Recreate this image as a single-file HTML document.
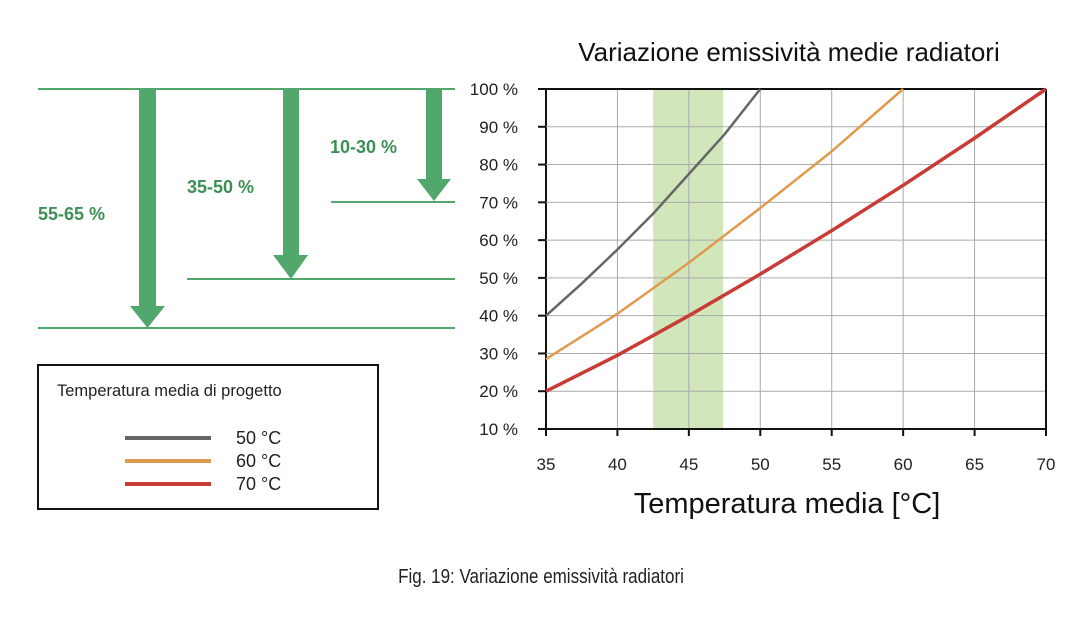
<!DOCTYPE html>
<html><head><meta charset="utf-8"><style>body{margin:0;background:#fff}svg{display:block;font-family:"Liberation Sans",sans-serif}</style></head>
<body>
<svg id="c" width="1082" height="624" viewBox="0 0 1082 624">
<g fill="#52a86c" stroke="none">
<rect x="38" y="88" width="417" height="2"/>
<rect x="331" y="201" width="124" height="2"/>
<rect x="187" y="278" width="268" height="2"/>
<rect x="38" y="327" width="417" height="2"/>
<path d="M139 90 H156 V306 H165 L147.5 328 L130 306 H139 Z"/>
<path d="M283 90 H299 V255 H308 L291 279 L273 255 H283 Z"/>
<path d="M426 90 H442 V179 H451 L434 201 L417 179 H426 Z"/>
<g font-weight="bold" font-size="18" fill="#3d8f55">
<text x="38" y="220">55-65 %</text>
<text x="187" y="193">35-50 %</text>
<text x="330" y="153">10-30 %</text>
</g></g>
<g>
<rect x="38" y="365" width="340" height="144" fill="none" stroke="#111" stroke-width="2"/>
<text x="57" y="396" font-size="16.5" fill="#222">Temperatura media di progetto</text>
<line x1="125" y1="438" x2="211" y2="438" stroke="#666" stroke-width="4"/>
<line x1="125" y1="461" x2="211" y2="461" stroke="#e09a4c" stroke-width="4"/>
<line x1="125" y1="484" x2="211" y2="484" stroke="#c93c36" stroke-width="4"/>
<text x="236" y="444" font-size="18" fill="#222">50 °C</text>
<text x="236" y="467" font-size="18" fill="#222">60 °C</text>
<text x="236" y="490" font-size="18" fill="#222">70 °C</text>
</g>
<text x="789" y="61" font-size="26" text-anchor="middle" fill="#111">Variazione emissività medie radiatori</text>
<text x="787" y="513" font-size="29" text-anchor="middle" fill="#111">Temperatura media [°C]</text>
<text x="541" y="583" font-size="20" text-anchor="middle" fill="#222" transform="translate(541 0) scale(0.85 1) translate(-541 0)">Fig. 19: Variazione emissività radiatori</text>
<g id="plot"></g>
</svg>
<script>
const xTicks=[35,40,45,50,55,60,65,70];
const yTicks=[10,20,30,40,50,60,70,80,90,100];
const bandRange=[42.5,47.4];
const s50x=[35,37.5,40,42.5,45,47.5,50];
const s50y=[40,48.5,57.5,67,77.5,88,100];
const s60x=[35,40,45,50,55,60];
const s60y=[28.5,40.5,54,68.5,83.5,100];
const s70x=[35,40,45,50,55,60,65,70];
const s70y=[20,29.5,40,51,62.5,74.5,87,100];
const X=v=>546+(v-35)*500/35, Y=v=>429-(v-10)*340/90;
const g=document.getElementById('plot'),NS='http://www.w3.org/2000/svg';
function mk(t,a){const e=document.createElementNS(NS,t);for(const k in a)e.setAttribute(k,a[k]);g.appendChild(e);return e;}
let b=mk('rect',{x:X(bandRange[0]),y:Y(100),width:X(bandRange[1])-X(bandRange[0]),height:Y(10)-Y(100),fill:'#d2e6bc'});


xTicks.forEach(t=>{let l=mk('line',{x1:X(t),x2:X(t),y1:Y(100),y2:Y(10)+6,stroke:t==35?'#111':'#aaa','stroke-width':t==35?2:1});


let k=mk('line',{x1:X(t),x2:X(t),y1:Y(10),y2:Y(10)+7,stroke:'#111','stroke-width':2});


let tx=mk('text',{x:X(t),y:470,'font-size':17,'text-anchor':'middle',fill:'#222'});tx.textContent=t;

});
yTicks.forEach(t=>{let l=mk('line',{x1:X(35)-7,x2:X(70),y1:Y(t),y2:Y(t),stroke:t==10||t==100?'#111':'#aaa','stroke-width':t==10||t==100?2:1});


let k=mk('line',{x1:X(35)-8,x2:X(35),y1:Y(t),y2:Y(t),stroke:'#111','stroke-width':2});


let tx=mk('text',{x:518,y:Y(t)+6,'font-size':17,'text-anchor':'end',fill:'#222'});tx.textContent=t+' %';

});
let r=mk('line',{x1:X(70),x2:X(70),y1:Y(100),y2:Y(10),stroke:'#111','stroke-width':2});


function series(xs,ys,c,w,n){let p=mk('polyline',{points:xs.map((x,i)=>X(x)+','+Y(ys[i])).join(' '),fill:'none',stroke:c,'stroke-width':w,'stroke-linejoin':'round'});

}
series(s50x,s50y,'#666',2.5,'series-50c');
series(s60x,s60y,'#e09a4c',2.5,'series-60c');
series(s70x,s70y,'#c93c36',3.5,'series-70c');
</script>
</body></html>
